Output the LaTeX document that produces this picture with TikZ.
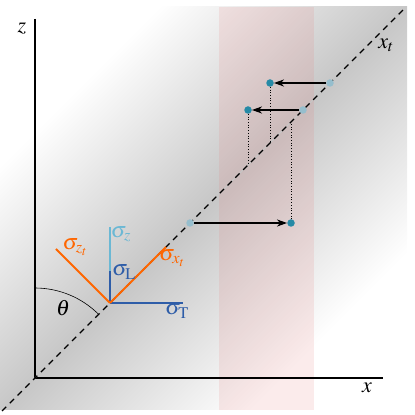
\documentclass[tikz,border=0pt]{standalone}
\usepackage{mathptmx}
\usetikzlibrary{arrows.meta}

\definecolor{stressorange}{RGB}{255,102,0}
\definecolor{stressblue}{RGB}{46,93,168}
\definecolor{stresslight}{RGB}{107,184,212}
\definecolor{dotteal}{RGB}{38,138,166}
\definecolor{dotpale}{RGB}{150,190,205}
\definecolor{stripred}{RGB}{230,120,120}

\begin{document}
\begin{tikzpicture}[x=1pt,y=1pt,
    dot/.style={circle,fill=dotteal,inner sep=0pt,minimum size=7.5pt},
    ghost/.style={circle,fill=dotpale,inner sep=0pt,minimum size=7.5pt},
    move/.style={-{Stealth[length=10pt,width=7pt,inset=3pt]},line width=1.2pt},
    stress/.style={line width=1.8pt},
    lab/.style={font=\fontsize{22}{26}\selectfont}]

    \useasboundingbox (0,0) rectangle (415,415);

    %% Background
    % Grey band along the rotated axis
    \begin{scope}
        \clip (0,5) rectangle (407,408);
        \shade[transform canvas={shift={(0,2)},rotate=45},
            top color=white,bottom color=white,middle color=black!22]
            (-60,-175) rectangle (650,175);
    \end{scope}

    % Sampled strip
    \fill[stripred,opacity=0.15] (219,5) rectangle (314,408);

    %% Axes
    \coordinate (O) at (35,37);
    \draw[line width=1.2pt] (35,396) -- (O) -- (383,37);
    \node[lab] at (22,386) {$z$};
    \node[lab] at (367,27) {$x$};

    % Rotated axis x_t
    \draw[gray!45,line width=0.8pt] (2,4) -- (406,408);
    \draw[line width=1.3pt,dash pattern=on 6pt off 5pt] (2,4) -- (406,408);
    \node[lab] at (386,370) {$x_t$};

    % Angle theta
    \draw[line width=0.6pt] (35,127) arc[start angle=90,end angle=45,radius=90];
    \node[lab] at (63,107) {$\theta$};

    %% Stress components
    \coordinate (C) at (110,112);
    \draw[stress,stresslight] (110,144) -- (110,188);
    \draw[stress,stressblue] (C) -- (110,144);
    \draw[stress,stressblue] (C) -- (183,112);
    \draw[stress,stressorange] (C) -- ++(56,56);
    \draw[stress,stressorange] (C) -- ++(-54,54);
    \node[lab,stresslight] at (121,181) {$\sigma_z$};
    \node[lab,stressblue] at (124,143) {$\sigma_\mathrm{L}$};
    \node[lab,stressblue] at (177,104) {$\sigma_\mathrm{T}$};
    \node[lab,stressorange] at (172,157) {$\sigma_{x_t}$};
    \node[lab,stressorange] at (75,168) {$\sigma_{z_t}$};

    %% Mapped points
    \node[ghost] (p1) at (190,192) {};
    \node[ghost] (p2) at (303,305) {};
    \node[ghost] (p3) at (330,332) {};
    \node[dot] (q1) at (291,192) {};
    \node[dot] (q2) at (248,305) {};
    \node[dot] (q3) at (270,332) {};
    \coordinate (d1) at (291,293);
    \coordinate (d2) at (248,250);
    \coordinate (d3) at (270,272);

    % Projections onto x_t
    \draw[dotted,line width=0.7pt] (q1) -- (d1);
    \draw[dotted,line width=0.7pt] (q2) -- (d2);
    \draw[dotted,line width=0.7pt] (q3) -- (d3);

    % Shifts
    \draw[move] (p1) -- (q1);
    \draw[move] (p2) -- (q2);
    \draw[move] (p3) -- (q3);

\end{tikzpicture}
\end{document}
